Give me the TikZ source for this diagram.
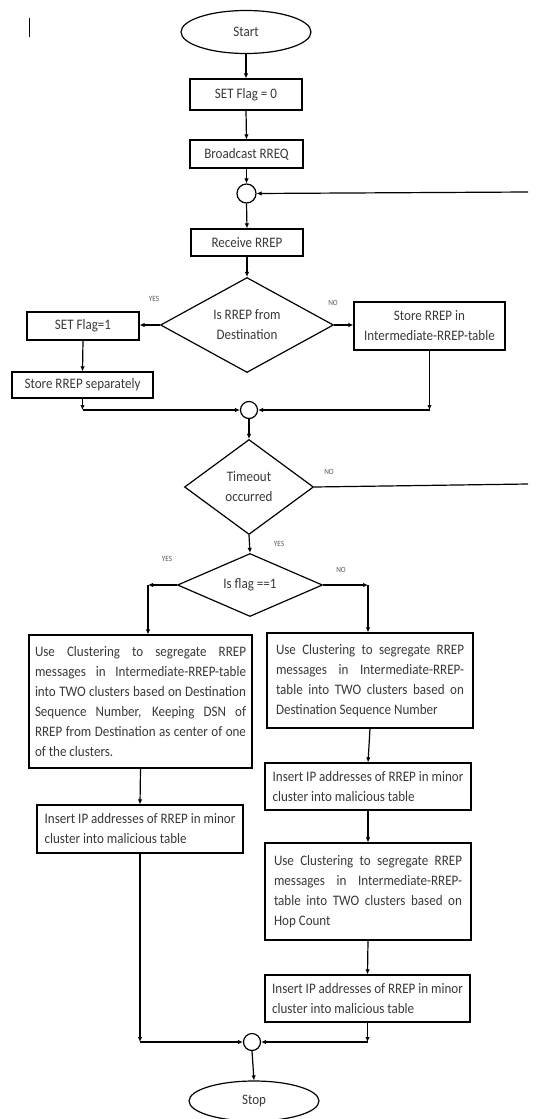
\documentclass[tikz,border=0pt]{standalone}
\usepackage{fontspec}
\setmainfont{Carlito}[FakeStretch=0.9]
\usetikzlibrary{shapes.geometric,arrows.meta}
\tolerance=10000
\hbadness=10000
\hyphenpenalty=10000
\exhyphenpenalty=10000
\begin{document}
\begin{tikzpicture}[x=1pt,y=-1pt,
  line width=1.2pt,
  every node/.style={font=\fontsize{14.5}{20}\selectfont, text=black!78},
  term/.style={ellipse, draw=black, inner sep=0pt, minimum width=130pt, minimum height=43pt},
  proc/.style={rectangle, draw=black, inner sep=0pt, align=center},
  para/.style={rectangle, draw=black, inner ysep=0pt, align=justify},
  ins/.style={rectangle, draw=black, inner sep=0pt, align=left},
  dec/.style={diamond, draw=black, inner sep=0pt, align=center},
  junc/.style={circle, draw=black, inner sep=0pt},
  arr/.style={-{Latex[length=5pt,width=4.5pt]}},
  lbl/.style={font=\fontsize{8}{9}\selectfont, text=black!65},
]
\useasboundingbox (0,0) rectangle (540,1119);

% cursor mark
\draw[line width=1pt] (29,18) -- (29,37);

% top chain
\node[term] (start) at (246,32) {Start};
\node[proc, minimum width=112pt, minimum height=31pt] (f0) at (246,94.5) {SET Flag = 0};
\node[proc, minimum width=113pt, minimum height=28pt] (bc) at (246.5,154) {Broadcast RREQ};
\node[junc, minimum size=19pt] (j1) at (246.5,193.5) {};
\node[proc, minimum width=112pt, minimum height=27pt] (rr) at (247,242.5) {Receive RREP};
\node[dec, aspect=1.82, minimum width=173pt, minimum height=95pt] (d1) at (247,325) {Is RREP from\\Destination};

\node[proc, minimum width=112pt, minimum height=28pt] (f1) at (83,326) {SET Flag=1};
\node[proc, minimum width=141pt, minimum height=26pt] (ss) at (82.5,385) {Store RREP separately};
\node[proc, minimum width=151pt, minimum height=48pt] (si) at (429.5,326) {Store RREP in\\Intermediate-RREP-table};

\node[junc, minimum size=17pt] (j2) at (249,410) {};
\node[dec, aspect=1.36, minimum width=129pt, minimum height=95pt] (d2) at (249,487) {Timeout\\occurred};
\node[dec, aspect=2.3, minimum width=145pt, minimum height=63pt] (d3) at (250,585) {Is flag ==1};

% left branch
\node[para, text width=211pt, inner xsep=6pt, minimum height=133pt] (bl) at (140.5,701.5) {Use Clustering to segregate RREP\linebreak messages in Intermediate-RREP-table\linebreak into TWO clusters based on Destination\linebreak Sequence Number, Keeping DSN of\linebreak RREP from Destination as center of one\linebreak of the clusters.};
\node[ins, minimum width=206pt, minimum height=48pt] (il) at (140,829) {Insert IP addresses of RREP in minor\\cluster into malicious table};

% right branch
\node[para, text width=188pt, inner xsep=9pt, minimum height=95pt] (br1) at (370,680.5) {Use Clustering to segregate RREP\linebreak messages in Intermediate-RREP-\linebreak table into TWO clusters based on\linebreak Destination Sequence Number};
\node[ins, minimum width=206pt, minimum height=47pt] (ir1) at (368,786.5) {Insert IP addresses of RREP in minor\\cluster into malicious table};
\node[para, text width=188pt, inner xsep=9pt, minimum height=97pt] (br2) at (368,891.5) {Use Clustering to segregate RREP\linebreak messages in Intermediate-RREP-\linebreak table into TWO clusters based on\linebreak Hop Count};
\node[ins, minimum width=205pt, minimum height=47pt] (ir2) at (367.5,998.5) {Insert IP addresses of RREP in minor\\cluster into malicious table};

\node[junc, minimum size=17pt] (j3) at (252,1042) {};
\node[term, minimum height=40pt] (stop) at (254,1101) {Stop};

% labels
\node[lbl] (y1) at (154,299) {YES};
\node[lbl] (n1) at (333,303) {NO};
\node[lbl] (n2) at (329,472) {NO};
\node[lbl] (y2) at (279,544) {YES};
\node[lbl] (y3) at (167,559) {YES};
\node[lbl] (n3) at (341,570) {NO};

% coordinates
\coordinate (r1) at (528,192);
\coordinate (r2) at (528,484);
\coordinate (c1) at (ss.south |- j2);
\coordinate (c2) at (si.south |- j2);
\coordinate (c3) at (148,585);
\coordinate (c4) at (368,585);
\coordinate (c5) at (il.south |- j3);
\coordinate (c6) at (ir2.south |- j3);

% connectors
\draw[arr] (start.south) -- (f0.north);
\draw[arr] (f0.south) -- (bc.north);
\draw[arr] (bc.south) -- (j1.north);
\draw[arr] (r1) -- (j1.east);
\draw[arr] (j1.south) -- (rr.north);
\draw[arr] (rr.south) -- (d1.north);
\draw[arr] (d1.west) -- (f1.east |- d1.west);
\draw[arr] (d1.east) -- (si.west |- d1.east);
\draw[arr] (f1.south) -- (ss.north);
\draw[arr] (ss.south) -- (c1);
\draw[arr] (c1) -- (j2.west);
\draw[arr] (si.south) -- (c2);
\draw[arr] (c2) -- (j2.east);
\draw[arr] (j2.south) -- (d2.north);
\draw (d2.east) -- (r2);
\draw[arr] (d2.south) -- (d3.north);
\draw[arr] (d3.west) -- (c3);
\draw[arr] (c3) -- (c3 |- bl.north);
\draw[arr] (d3.east) -- (c4);
\draw[arr] (c4) -- (c4 |- br1.north);
\draw[arr] (bl.south) -- (il.north);
\draw[arr] (br1.south) -- (ir1.north);
\draw[arr] (ir1.south) -- (br2.north);
\draw[arr] (br2.south) -- (ir2.north);
\draw[arr] (il.south) -- (c5);
\draw[arr] (c5) -- (j3.west);
\draw[arr] (ir2.south) -- (c6);
\draw[arr] (c6) -- (j3.east);
\draw[arr] (j3.south) -- (stop.north);
\end{tikzpicture}
\end{document}
